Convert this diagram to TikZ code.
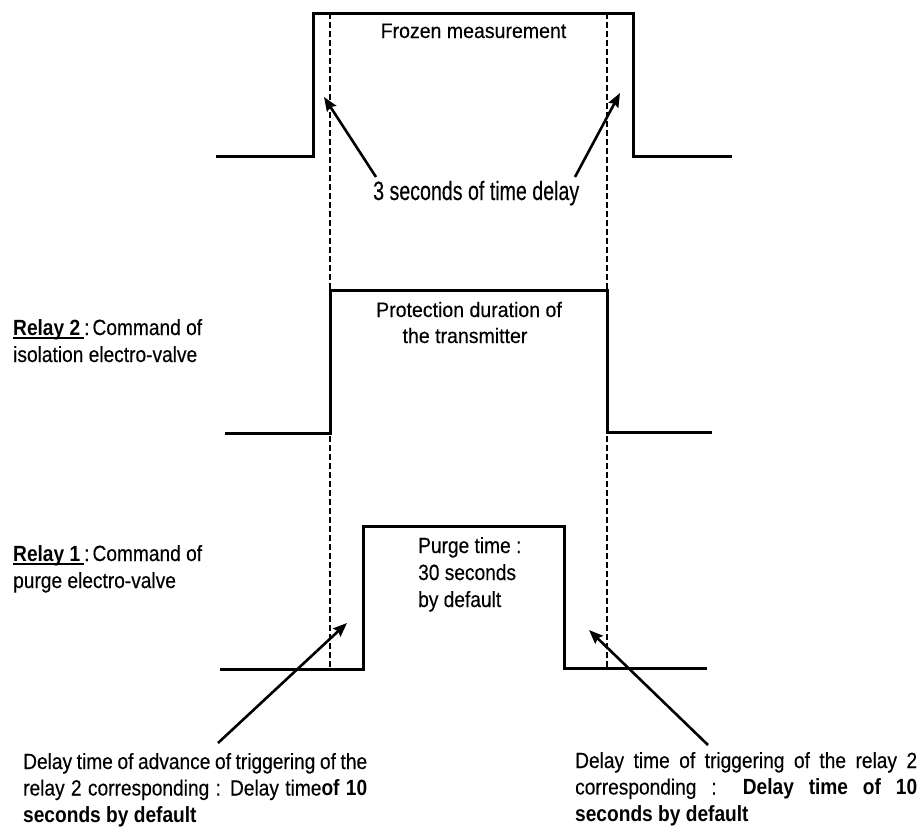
\documentclass[tikz,border=0pt]{standalone}
\usepackage{fontspec}
\setmainfont{Liberation Sans}[FakeStretch=0.87, UprightFeatures={FakeBold=0.3}]
\newfontfamily\frozenfont{Liberation Sans}[FakeStretch=0.93, FakeBold=0.3]
\newfontfamily\delayfont{Liberation Sans}[FakeStretch=0.74, FakeBold=0.3]
\usetikzlibrary{arrows.meta}
\newcommand\relayul[1]{\setbox0\hbox{#1}\rlap{\rule[-3.5pt]{\wd0}{1.2pt}}\box0}
\begin{document}
\begin{tikzpicture}[x=1pt,y=-1pt,
  signal/.style={line width=3pt, line join=miter},
  guide/.style={line width=2.6pt, dash pattern=on 6pt off 3pt},
  pointer/.style={line width=2.6pt, -{Stealth[length=14pt,width=11pt,inset=2pt]}},
  txt/.style={inner sep=0pt, font=\fontsize{22}{27}\selectfont},
  ctxt/.style={inner sep=0pt, font=\frozenfont\fontsize{21}{26}\selectfont}]
\useasboundingbox (0,0) rectangle (922,828);

% frozen measurement signal
\coordinate (f0) at (216,156);
\coordinate (f1) at (313,156);
\coordinate (f2) at (313,13);
\coordinate (f3) at (633,13);
\coordinate (f4) at (633,156);
\coordinate (f5) at (732,156);
\draw[signal] (f0) -- (f1) -- (f2) -- (f3) -- (f4) -- (f5);

% relay 2 signal
\coordinate (r20) at (225,433);
\coordinate (r21) at (330,433);
\coordinate (r22) at (330,290);
\coordinate (r23) at (607,290);
\coordinate (r24) at (607,432);
\coordinate (r25) at (712,432);
\draw[signal] (r20) -- (r21) -- (r22) -- (r23) -- (r24) -- (r25);

% relay 1 signal
\coordinate (r10) at (220,669);
\coordinate (r11) at (363,669);
\coordinate (r12) at (363,526);
\coordinate (r13) at (564,526);
\coordinate (r14) at (564,668);
\coordinate (r15) at (707,668);
\draw[signal] (r10) -- (r11) -- (r12) -- (r13) -- (r14) -- (r15);

% dashed guides
\coordinate (gl1) at (330,13);
\coordinate (gl2) at (330,669);
\coordinate (gr1) at (607,13);
\coordinate (gr2) at (607,668);
\draw[guide] (gl1) -- (gl2);
\draw[guide] (gr1) -- (gr2);

% texts
\node[ctxt, anchor=base] (frozen) at (473.5,38) {Frozen measurement};
\node[inner sep=0pt, anchor=base west, font=\delayfont\fontsize{26.5}{30}\selectfont] (delay3) at (373,200) {3 seconds of time delay};
\node[ctxt, anchor=base] (prot1) at (469,317) {Protection duration of};
\node[ctxt, anchor=base] (prot2) at (465,343) {the transmitter};
\node[txt, anchor=base west] (purge) at (418,553)
  {\begin{tabular}[t]{@{}l@{}}Purge time :\\30 seconds\\by default\end{tabular}};
\node[txt, anchor=base west] (relay2) at (13,335)
  {\begin{tabular}[t]{@{}l@{}}\relayul{\textbf{Relay 2}\hspace{4pt}}:\hspace{3pt}Command of\\isolation electro-valve\end{tabular}};
\node[txt, anchor=base west] (relay1) at (13,561)
  {\begin{tabular}[t]{@{}l@{}}\relayul{\textbf{Relay 1}\hspace{4pt}}:\hspace{3pt}Command of\\purge electro-valve\end{tabular}};
\node[txt, font=\fontsize{22}{26.5}\selectfont, anchor=base west] (advance) at (23,769)
  {\begin{tabular}[t]{@{}l@{}}\makebox[344pt][s]{Delay time of advance of triggering of the}\\
   \makebox[344pt][s]{relay 2 corresponding : Delay time\textbf{of 10}}\\
   \textbf{seconds by default}\end{tabular}};
\node[txt, font=\fontsize{22}{26.5}\selectfont, anchor=base west] (trigger) at (575,768)
  {\begin{tabular}[t]{@{}l@{}}\makebox[342pt][s]{Delay time of triggering of the relay 2}\\
   \makebox[342pt][s]{corresponding : \textbf{Delay time of 10}}\\
   \textbf{seconds by default}\end{tabular}};

% arrows
\coordinate (a1s) at (376,177);
\coordinate (a1e) at (324,97);
\coordinate (a2s) at (575,177);
\coordinate (a2e) at (620,93);
\coordinate (a3s) at (218,743);
\coordinate (a3e) at (347,623);
\coordinate (a4s) at (708,745);
\coordinate (a4e) at (589,630);
\draw[pointer] (a1s) -- (a1e);
\draw[pointer] (a2s) -- (a2e);
\draw[pointer] (a3s) -- (a3e);
\draw[pointer] (a4s) -- (a4e);
\end{tikzpicture}
\end{document}
